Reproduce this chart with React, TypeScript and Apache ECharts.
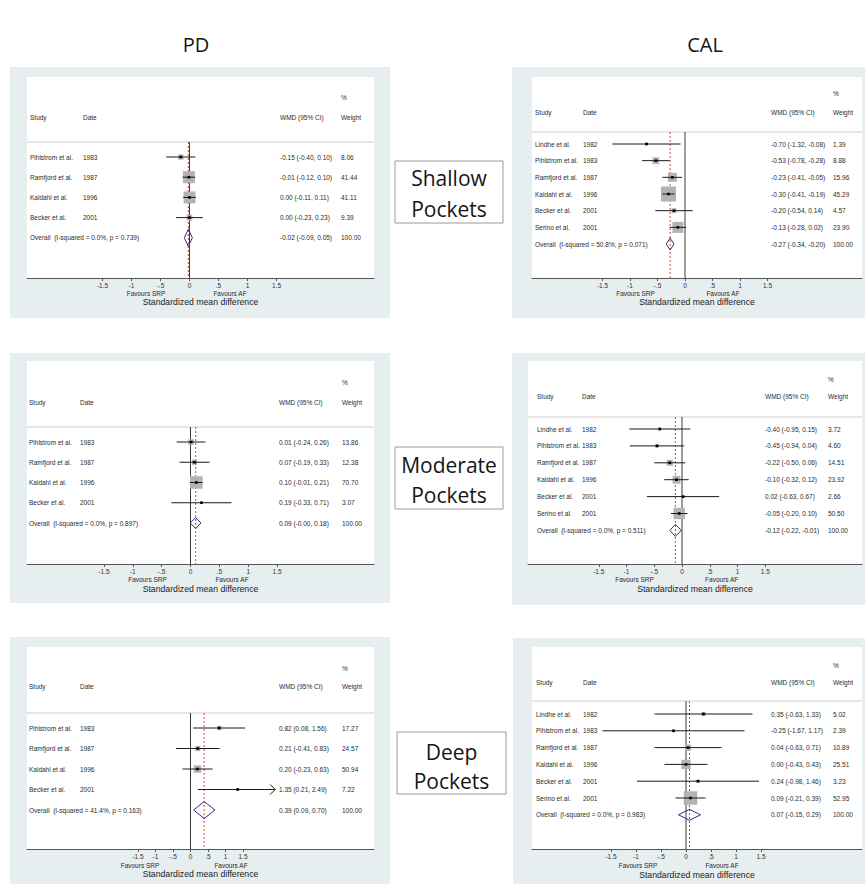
import React, { useEffect, useRef } from "react";
import * as echarts from "echarts";

// ---------- DATA ----------
const pdStudies = ["Pihlstrom et al.", "Ramfjord et al.", "Kaldahl et al.", "Becker et al."];
const pdDates = ["1983", "1987", "1996", "2001"];
const calStudies = ["Lindhe et al.", "Pihlstrom et al.", "Ramfjord et al.", "Kaldahl et al.", "Becker et al.", "Serino et al."];
const calDates = ["1982", "1983", "1987", "1996", "2001", "2001"];
const tickValues = [-1.5, -1, -0.5, 0, 0.5, 1, 1.5];

// PD - shallow
const pdShallowEst = [-0.15, -0.01, 0.0, 0.0];
const pdShallowLo = [-0.4, -0.12, -0.11, -0.23];
const pdShallowHi = [0.1, 0.1, 0.11, 0.23];
const pdShallowWeight = [8.06, 41.44, 41.11, 9.39];
const pdShallowOverall = [-0.02, -0.09, 0.05];
const pdShallowHet = ["0.0%", "0.739"];

// CAL - shallow
const calShallowEst = [-0.7, -0.53, -0.23, -0.3, -0.2, -0.13];
const calShallowLo = [-1.32, -0.78, -0.41, -0.41, -0.54, -0.28];
const calShallowHi = [-0.08, -0.28, -0.05, -0.19, 0.14, 0.02];
const calShallowWeight = [1.39, 8.88, 15.96, 45.29, 4.57, 23.9];
const calShallowOverall = [-0.27, -0.34, -0.2];
const calShallowHet = ["50.8%", "0.071"];

// PD - moderate
const pdModEst = [0.01, 0.07, 0.1, 0.19];
const pdModLo = [-0.24, -0.19, -0.01, -0.33];
const pdModHi = [0.26, 0.33, 0.21, 0.71];
const pdModWeight = [13.86, 12.38, 70.7, 3.07];
const pdModOverall = [0.09, -0.004, 0.18];
const pdModHet = ["0.0%", "0.897"];

// CAL - moderate
const calModEst = [-0.4, -0.45, -0.22, -0.1, 0.02, -0.05];
const calModLo = [-0.95, -0.94, -0.5, -0.32, -0.63, -0.2];
const calModHi = [0.15, 0.04, 0.06, 0.12, 0.67, 0.1];
const calModWeight = [3.72, 4.6, 14.51, 23.92, 2.66, 50.5];
const calModOverall = [-0.12, -0.22, -0.01];
const calModHet = ["0.0%", "0.511"];

// PD - deep
const pdDeepEst = [0.82, 0.21, 0.2, 1.35];
const pdDeepLo = [0.08, -0.41, -0.23, 0.21];
const pdDeepHi = [1.56, 0.83, 0.63, 2.49];
const pdDeepWeight = [17.27, 24.57, 50.94, 7.22];
const pdDeepOverall = [0.39, 0.09, 0.7];
const pdDeepHet = ["41.4%", "0.163"];

// CAL - deep
const calDeepEst = [0.35, -0.25, 0.04, 0.0, 0.24, 0.09];
const calDeepLo = [-0.63, -1.67, -0.63, -0.43, -0.98, -0.21];
const calDeepHi = [1.33, 1.17, 0.71, 0.43, 1.46, 0.39];
const calDeepWeight = [5.02, 2.39, 10.89, 25.51, 3.23, 52.95];
const calDeepOverall = [0.07, -0.15, 0.29];
const calDeepHet = ["0.0%", "0.983"];

const columnTitles = ["PD", "CAL"];
const rowTitles = [["Shallow", "Pockets"], ["Moderate", "Pockets"], ["Deep", "Pockets"]];

// ---------- PANELS ----------
const panels = [
  { studies: pdStudies, dates: pdDates, est: pdShallowEst, lo: pdShallowLo, hi: pdShallowHi, w: pdShallowWeight, overall: pdShallowOverall, het: pdShallowHet },
  { studies: calStudies, dates: calDates, est: calShallowEst, lo: calShallowLo, hi: calShallowHi, w: calShallowWeight, overall: calShallowOverall, het: calShallowHet },
  { studies: pdStudies, dates: pdDates, est: pdModEst, lo: pdModLo, hi: pdModHi, w: pdModWeight, overall: pdModOverall, het: pdModHet },
  { studies: calStudies, dates: calDates, est: calModEst, lo: calModLo, hi: calModHi, w: calModWeight, overall: calModOverall, het: calModHet },
  { studies: pdStudies, dates: pdDates, est: pdDeepEst, lo: pdDeepLo, hi: pdDeepHi, w: pdDeepWeight, overall: pdDeepOverall, het: pdDeepHet },
  { studies: calStudies, dates: calDates, est: calDeepEst, lo: calDeepLo, hi: calDeepHi, w: calDeepWeight, overall: calDeepOverall, het: calDeepHet },
];

// ---------- LAYOUT (pixels) ----------
const layouts = [
  { outer: [10, 67, 390, 318], inner: [27, 77, 374, 278], zero: 189.5, unit: 58, row0: 157, step: 20.2, headY: 117, pctY: 97, sepY: 142, cols: [30, 83, 280, 341], favL: 146, favR: 230, favY: 293, nameY: 302, boxK: 1.86, dia: 17, clipAt: 99 },
  { outer: [512, 67, 865, 318], inner: [532, 77, 862, 278], zero: 685, unit: 55, row0: 144, step: 16.67, headY: 112, pctY: 93, sepY: 132, cols: [535, 583, 771, 833], favL: 635.5, favR: 723, favY: 293, nameY: 302, boxK: 2.25, dia: 12, clipAt: 99 },
  { outer: [10, 353, 390, 603], inner: [27, 361, 374, 564], zero: 190.5, unit: 57.7, row0: 442, step: 20.25, headY: 402, pctY: 382, sepY: 427, cols: [29, 80, 279, 342], favL: 147.5, favR: 232, favY: 579.5, nameY: 589, boxK: 1.49, dia: 11, clipAt: 99 },
  { outer: [512, 353, 865, 605], inner: [528, 361, 862, 564], zero: 682, unit: 55.5, row0: 429, step: 16.9, headY: 396, pctY: 379, sepY: 417, cols: [537, 582, 765, 828], favL: 634.5, favR: 721.7, favY: 579.5, nameY: 589, boxK: 1.6, dia: 12, clipAt: 99 },
  { outer: [10, 637, 390, 884], inner: [27, 647, 374, 849], zero: 190.5, unit: 35, row0: 728, step: 20.5, headY: 686, pctY: 668, sepY: 713, cols: [29, 80, 279, 342], favL: 140, favR: 231, favY: 865, nameY: 874, boxK: 1.05, dia: 17, clipAt: 2.42 },
  { outer: [513, 638, 865, 884], inner: [532, 647, 862, 849], zero: 686, unit: 50, row0: 714, step: 16.8, headY: 682, pctY: 665, sepY: 701, cols: [536, 583, 771, 833], favL: 638, favR: 722, favY: 865, nameY: 875, boxK: 1.85, dia: 11, clipAt: 99 },
];

const labelBoxes = [
  { rect: [395, 161, 503, 223], ys: [178, 209] },
  { rect: [395, 447, 503, 509], ys: [465, 495] },
  { rect: [397, 732, 506, 794], ys: [752, 781] },
];
const titlePos = [[196, 44], [705, 44]];

const FONT = "'Liberation Sans', Arial, sans-serif";
const TITLE_FONT = "'Open Sans', 'Noto Sans', sans-serif";
const TXT = 6.5;

const fmt = (v: number) => v.toFixed(2);
const tickFmt = (v: number) => (v === 0 ? "0" : String(v).replace("0.", "."));

function txt(t: string, x: number, y: number, align = "left", size = TXT, color = "#2b2b2b") {
  return {
    type: "text",
    x,
    y,
    style: {
      text: t,
      textAlign: align,
      align,
      textVerticalAlign: "middle",
      verticalAlign: "middle",
      fontSize: size,
      fontFamily: FONT,
      fill: color,
    },
  };
}

function makeRender(P: any, L: any) {
  return (params: any, api: any) => {
    const kind = api.value(0);
    const row = api.value(1);
    if (kind === 0) {
      const x0 = api.coord([0, 0])[0];
      const xo = api.coord([P.overall[0], 0])[0];
      const bottom = L.inner[3];
      return {
        type: "group",
        children: [
          { type: "line", shape: { x1: L.inner[0], y1: L.sepY, x2: L.inner[2], y2: L.sepY }, style: { stroke: "#cfcfcf", lineWidth: 1 } },
          { type: "line", shape: { x1: x0, y1: L.sepY, x2: x0, y2: bottom }, style: { stroke: "#3a3a3a", lineWidth: 1 } },
          { type: "line", shape: { x1: xo, y1: L.sepY, x2: xo, y2: bottom }, style: { stroke: "#c8463c", lineWidth: 1, lineDash: [2, 2] } },
          txt("Study", L.cols[0], L.headY),
          txt("Date", L.cols[1], L.headY),
          txt("WMD (95% CI)", L.cols[2], L.headY),
          txt("%", L.cols[3], L.pctY),
          txt("Weight", L.cols[3], L.headY),
          txt("Favours SRP", L.favL, L.favY, "center"),
          txt("Favours AF", L.favR, L.favY, "center"),
        ],
      };
    }
    const est = api.value(2);
    const lo = api.value(3);
    const hi = api.value(4);
    const w = api.value(5);
    const y = api.coord([0, row])[1];
    const xe = api.coord([est, row])[0];
    const xl = api.coord([lo, row])[0];
    const ciText = `${fmt(est)} (${fmt(lo)}, ${fmt(hi)})`;
    if (kind === 2) {
      const xh = api.coord([hi, row])[0];
      const h = L.dia / 2;
      return {
        type: "group",
        children: [
          {
            type: "polygon",
            shape: { points: [[xl, y], [xe, y - h], [xh, y], [xe, y + h]] },
            style: { stroke: "#2e2e86", fill: "none", lineWidth: 1 },
          },
          txt(`Overall  (I-squared = ${P.het[0]}, p = ${P.het[1]})`, L.cols[0], y),
          txt(ciText, L.cols[2], y),
          txt(fmt(w), L.cols[3], y),
        ],
      };
    }
    const clipped = hi > L.clipAt;
    const xh = api.coord([clipped ? L.clipAt : hi, row])[0];
    const s = L.boxK * Math.sqrt(w);
    const idx = params.dataIndex - 1;
    const children: any[] = [
      { type: "rect", shape: { x: xe - s / 2, y: y - s / 2, width: s, height: s }, style: { fill: "#b3b3b3" } },
      { type: "line", shape: { x1: xl, y1: y, x2: xh, y2: y }, style: { stroke: "#1a1a1a", lineWidth: 1 } },
      { type: "rect", shape: { x: xe - 1.3, y: y - 1.3, width: 2.6, height: 2.6 }, style: { fill: "#000" } },
      txt(P.studies[idx], L.cols[0], y),
      txt(P.dates[idx], L.cols[1], y),
      txt(ciText, L.cols[2], y),
      txt(fmt(w), L.cols[3], y),
    ];
    if (clipped) {
      children.push({
        type: "polyline",
        shape: { points: [[xh - 5, y - 5], [xh, y], [xh - 5, y + 5]] },
        style: { stroke: "#1a1a1a", fill: "none", lineWidth: 1 },
      });
    }
    return { type: "group", children };
  };
}

export default function App() {
  const ref = useRef<HTMLDivElement>(null);
  useEffect(() => {
    if (!ref.current) return;
    document.body.style.margin = "0";
    const chart = echarts.init(ref.current, undefined, { renderer: "svg" });

    const graphic: any[] = [];
    layouts.forEach((L) => {
      graphic.push({
        type: "rect",
        z: -20,
        shape: { x: L.outer[0], y: L.outer[1], width: L.outer[2] - L.outer[0], height: L.outer[3] - L.outer[1] },
        style: { fill: "#e7eef0" },
      });
      graphic.push({
        type: "rect",
        z: -10,
        shape: { x: L.inner[0], y: L.inner[1], width: L.inner[2] - L.inner[0], height: L.inner[3] - L.inner[1] },
        style: { fill: "#ffffff" },
      });
    });
    labelBoxes.forEach((B, i) => {
      graphic.push({
        type: "rect",
        z: -5,
        shape: { x: B.rect[0], y: B.rect[1], width: B.rect[2] - B.rect[0], height: B.rect[3] - B.rect[1] },
        style: { fill: "#fff", stroke: "#9a9a9a", lineWidth: 1 },
      });
      rowTitles[i].forEach((t, j) => {
        graphic.push({
          type: "text",
          x: (B.rect[0] + B.rect[2]) / 2,
          y: B.ys[j],
          style: { text: t, textAlign: "center", textVerticalAlign: "middle", fontSize: 21, fontFamily: TITLE_FONT, fill: "#151515" },
        });
      });
    });
    columnTitles.forEach((t, i) => {
      graphic.push({
        type: "text",
        x: titlePos[i][0],
        y: titlePos[i][1],
        style: { text: t, textAlign: "center", textVerticalAlign: "middle", fontSize: 20, fontFamily: TITLE_FONT, fill: "#151515" },
      });
    });

    const option: any = {
      animation: false,
      backgroundColor: "#ffffff",
      graphic,
      grid: layouts.map((L) => ({
        left: L.inner[0],
        top: L.inner[1],
        width: L.inner[2] - L.inner[0],
        height: L.inner[3] - L.inner[1],
        containLabel: false,
      })),
      xAxis: layouts.map((L, i) => ({
        type: "value",
        gridIndex: i,
        min: (L.inner[0] - L.zero) / L.unit,
        max: (L.inner[2] - L.zero) / L.unit,
        splitLine: { show: false },
        axisLine: { show: true, onZero: false, lineStyle: { color: "#555", width: 1 } },
        axisTick: { show: true, customValues: tickValues, length: 3, inside: false, lineStyle: { color: "#555" } },
        axisLabel: {
          customValues: tickValues,
          formatter: tickFmt,
          fontSize: TXT,
          color: "#333",
          margin: 4,
          fontFamily: FONT,
          showMinLabel: true,
          showMaxLabel: true,
        },
        name: "Standardized mean difference",
        nameLocation: "middle",
        nameGap: L.nameY - L.inner[3],
        nameTextStyle: { fontSize: 8.7, color: "#222", fontFamily: FONT, verticalAlign: "middle" },
      })),
      yAxis: layouts.map((L, i) => ({
        type: "value",
        gridIndex: i,
        inverse: true,
        min: (L.inner[1] - L.row0) / L.step,
        max: (L.inner[3] - L.row0) / L.step,
        show: false,
      })),
      series: panels.map((P, i) => {
        const n = P.est.length;
        const data: number[][] = [[0, 0, P.overall[0], 0, 0, 0]];
        for (let k = 0; k < n; k++) data.push([1, k, P.est[k], P.lo[k], P.hi[k], P.w[k]]);
        data.push([2, n, P.overall[0], P.overall[1], P.overall[2], 100]);
        return {
          type: "custom",
          xAxisIndex: i,
          yAxisIndex: i,
          clip: false,
          silent: true,
          renderItem: makeRender(P, layouts[i]),
          data,
        };
      }),
    };
    chart.setOption(option);
    return () => chart.dispose();
  }, []);
  return <div ref={ref} style={{ position: "absolute", left: 0, top: 0, width: 865, height: 884 }} />;
}
